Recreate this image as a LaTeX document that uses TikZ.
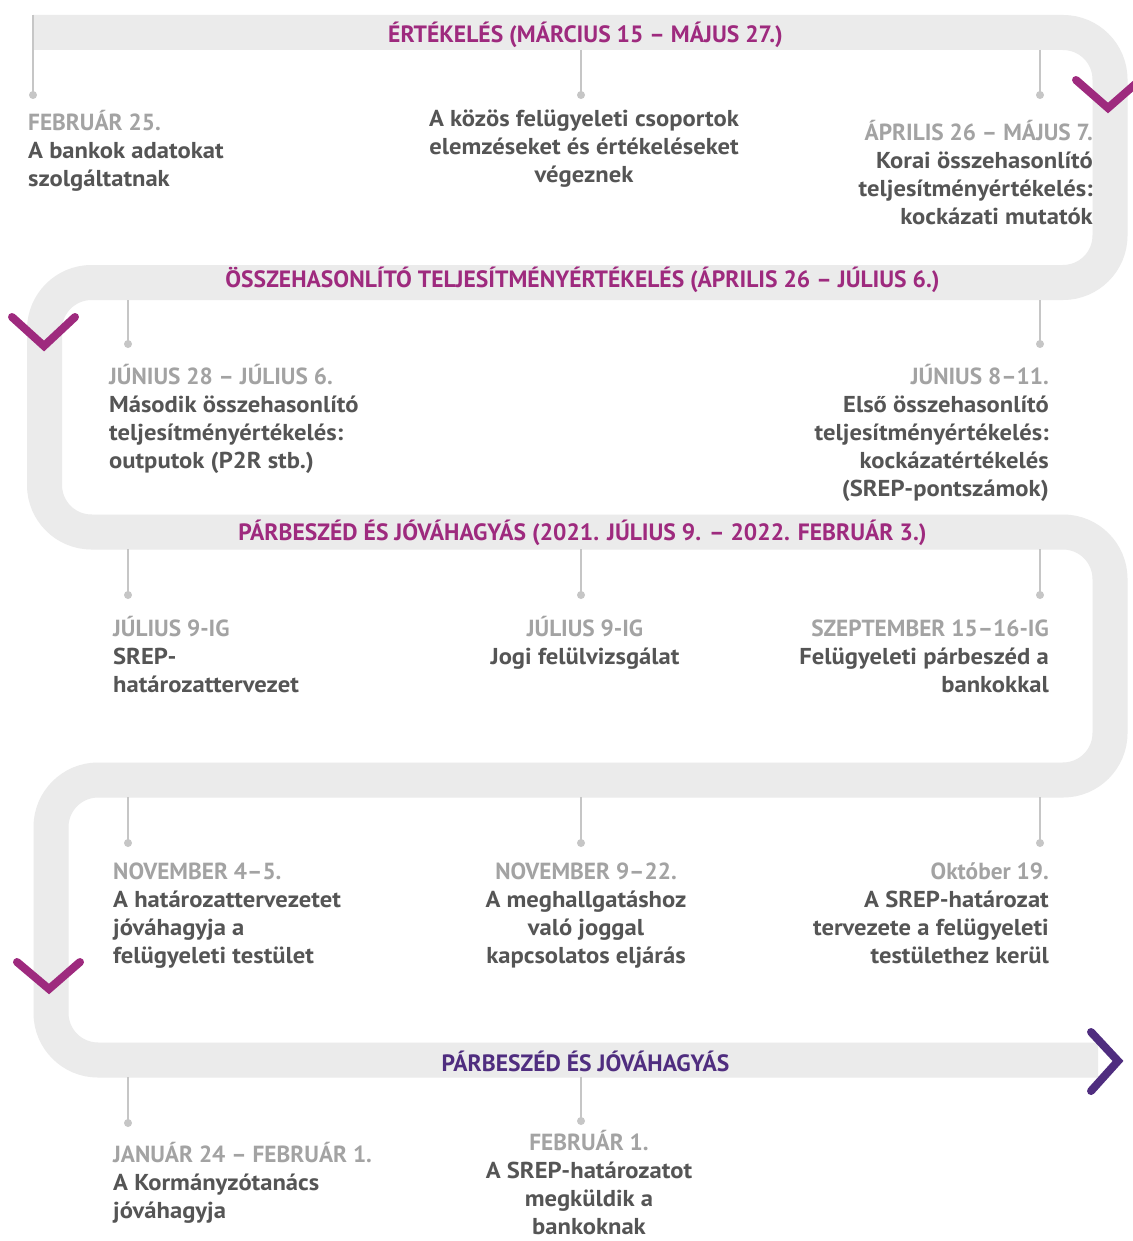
\documentclass[tikz,border=0pt]{standalone}
\usepackage{fontspec}
\setmainfont[FakeStretch=1.07]{PT Sans}
\newfontfamily\capsfont{PT Sans}
\definecolor{bandgray}{HTML}{EBEBEB}
\definecolor{tickgray}{HTML}{C6C6C6}
\definecolor{dategray}{HTML}{A3A3A3}
\definecolor{bodygray}{HTML}{555555}
\definecolor{magentaP}{HTML}{9E2A7E}
\definecolor{darkP}{HTML}{4F2D7F}
\tikzset{
  band/.style={draw=bandgray, line width=35pt, rounded corners=47pt},
  tick/.style={draw=tickgray, line width=2pt},
  dot/.style={circle, fill=tickgray, inner sep=0pt, minimum size=8pt},
  hdr/.style={text=magentaP, inner sep=0pt, anchor=base, font=\capsfont\bfseries\fontsize{23.6}{28}\selectfont},
  ev/.style={text=bodygray, inner sep=0pt, font=\bfseries\fontsize{23}{28}\selectfont},
  evl/.style={ev, align=left, anchor=base west},
  evr/.style={ev, align=right, anchor=base east},
  evc/.style={ev, align=center, anchor=base},
  chev/.style={line width=8pt, line cap=round, line join=miter},
}
\newcommand{\dt}[1]{\textcolor{dategray}{\capsfont\fontsize{23.3}{28}\selectfont #1}}
\begin{document}
\begin{tikzpicture}[x=1pt,y=-1pt]
\useasboundingbox[fill=white] (0,0) rectangle (1132,1241);
% serpentine band
\draw[band] (33,32.5) -- (1110,32.5) -- (1110,282.5) -- (44.5,282.5) -- (44.5,532)
  -- (1110,532) -- (1110,780) -- (51,780) -- (51,1060) -- (1098,1060);
% chevrons
\draw[chev, draw=magentaP] (1076,80) -- (1108,108) -- (1140,80);
\draw[chev, draw=magentaP] (12,317) -- (44,346) -- (75,317);
\draw[chev, draw=magentaP] (17,962) -- (49,989) -- (80,962);
\draw[chev, draw=darkP] (1091,1032) -- (1118,1061) -- (1091,1091);
% headers
\node[hdr] (h1) at (585.5,43) {ÉRTÉKELÉS (MÁRCIUS 15 – MÁJUS 27.)};
\node[hdr] (h2) at (582.5,287) {ÖSSZEHASONLÍTÓ TELJESÍTMÉNYÉRTÉKELÉS (ÁPRILIS 26 – JÚLIUS 6.)};
\node[hdr] (h3) at (582.5,540) {PÁRBESZÉD ÉS JÓVÁHAGYÁS (2021. JÚLIUS 9. – 2022. FEBRUÁR 3.)};
\node[hdr, text=darkP] (h5) at (585.5,1071) {PÁRBESZÉD ÉS JÓVÁHAGYÁS};
% tick anchors and dots
\coordinate (t11) at (33,15);   \node[dot] (d11) at (33,95) {};
\coordinate (t12) at (581,50);  \node[dot] (d12) at (581,95) {};
\coordinate (t13) at (1040,50); \node[dot] (d13) at (1040,95) {};
\coordinate (t21) at (128,300); \node[dot] (d21) at (128,344) {};
\coordinate (t22) at (1040,300);\node[dot] (d22) at (1040,344) {};
\coordinate (t31) at (128,549); \node[dot] (d31) at (128,595) {};
\coordinate (t32) at (581,549); \node[dot] (d32) at (581,595) {};
\coordinate (t33) at (1040,549);\node[dot] (d33) at (1040,595) {};
\coordinate (t41) at (128,797); \node[dot] (d41) at (128,843) {};
\coordinate (t42) at (581,797); \node[dot] (d42) at (581,843) {};
\coordinate (t43) at (1040,797);\node[dot] (d43) at (1040,843) {};
\coordinate (t51) at (128,1077);\node[dot] (d51) at (128,1123) {};
\coordinate (t52) at (581,1077);\node[dot] (d52) at (581,1121) {};
\foreach \i in {11,12,13,21,22,31,32,33,41,42,43,51,52}
  \draw[tick] (t\i) -- (d\i.center);
% events (anchor = baseline of last line)
\node[evl] (e11) at (28,187) {\dt{FEBRUÁR 25.}\\A bankok adatokat\\szolgáltatnak};
\node[evc] (e12) at (584,183) {A közös felügyeleti csoportok\\elemzéseket és értékeléseket\\végeznek};
\node[evr] (e13) at (1093,225) {\dt{ÁPRILIS 26 – MÁJUS 7.}\\Korai összehasonlító\\teljesítményértékelés:\\kockázati mutatók};
\node[evl] (e21) at (109,468) {\dt{JÚNIUS 28 – JÚLIUS 6.}\\Második összehasonlító\\teljesítményértékelés:\\outputok (P2R stb.)};
\node[evr] (e22) at (1049,496) {\dt{JÚNIUS 8–11.}\\Első összehasonlító\\teljesítményértékelés:\\kockázatértékelés\\(SREP-pontszámok)};
\node[evl] (e31) at (113,692) {\dt{JÚLIUS 9-IG}\\SREP-\\határozattervezet};
\node[evc] (e32) at (585,664) {\dt{JÚLIUS 9-IG}\\Jogi felülvizsgálat};
\node[evr] (e33) at (1049,692) {\dt{SZEPTEMBER 15–16-IG}\\Felügyeleti párbeszéd a\\bankokkal};
\node[evl] (e41) at (113,963) {\dt{NOVEMBER 4–5.}\\A határozattervezetet\\jóváhagyja a\\felügyeleti testület};
\node[evc] (e42) at (586,963) {\dt{NOVEMBER 9–22.}\\A meghallgatáshoz\\való joggal\\kapcsolatos eljárás};
\node[evr] (e43) at (1049,963) {\dt{Október 19.}\\A SREP-határozat\\tervezete a felügyeleti\\testülethez kerül};
\node[evl] (e51) at (113,1218) {\dt{JANUÁR 24 – FEBRUÁR 1.}\\A Kormányzótanács\\jóváhagyja};
\node[evc] (e52) at (589,1234) {\dt{FEBRUÁR 1.}\\A SREP-határozatot\\megküldik a\\bankoknak};
\end{tikzpicture}
\end{document}
